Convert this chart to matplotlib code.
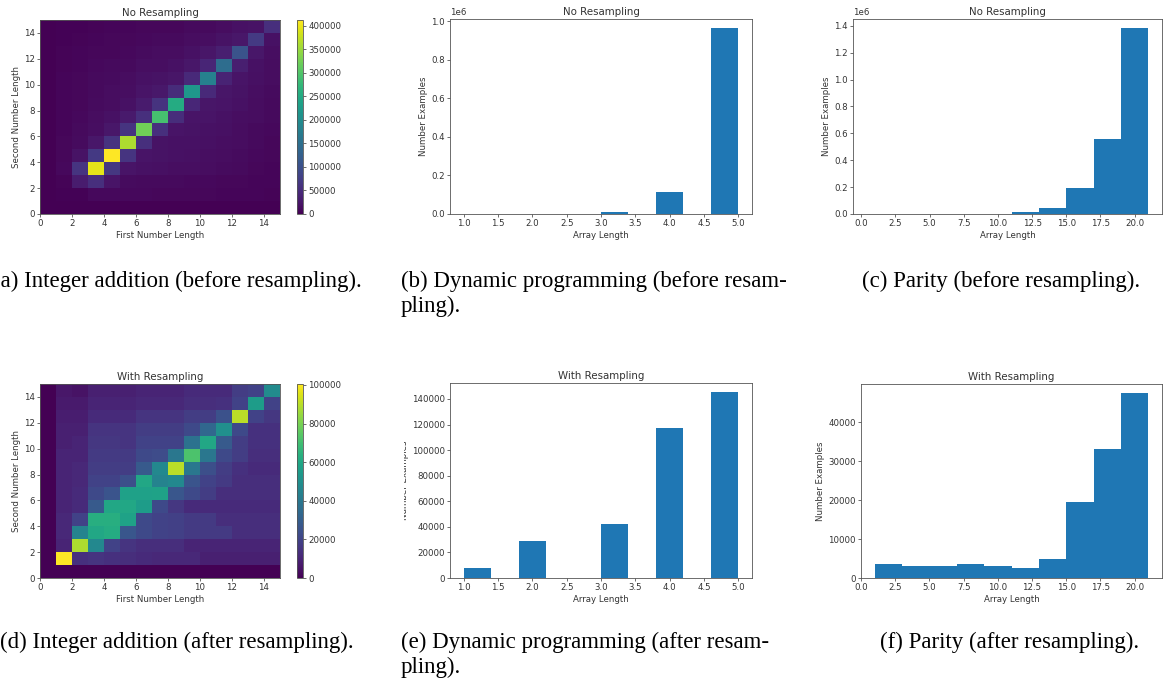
"""Length distributions before/after resampling: integer addition, DP, parity."""
import matplotlib
matplotlib.use("Agg")
import matplotlib.pyplot as plt
from matplotlib.ticker import MultipleLocator
from matplotlib.transforms import Bbox
import numpy as np

W, H = 1166, 682

# integer addition: counts (thousands), rows = second number length 0..14, cols = first length 0..14
add_before = [
    [0, 0, 0, 0, 0, 0, 0, 0, 0, 0, 0, 0, 0, 0, 0],
    [0, 2, 3, 9, 9, 9, 9, 8, 8, 7, 7, 6, 6, 5, 4],
    [0, 4, 32, 55, 22, 12, 11, 10, 10, 9, 9, 8, 7, 6, 5],
    [0, 9, 62, 395, 65, 22, 18, 17, 16, 15, 14, 12, 10, 8, 6],
    [0, 8, 20, 68, 412, 62, 22, 20, 18, 17, 16, 14, 12, 9, 7],
    [0, 7, 12, 25, 60, 362, 55, 20, 18, 18, 17, 15, 13, 10, 8],
    [0, 6, 10, 15, 25, 62, 322, 55, 22, 20, 19, 17, 14, 11, 9],
    [0, 6, 9, 13, 18, 28, 55, 290, 52, 22, 21, 19, 16, 13, 10],
    [0, 5, 8, 12, 14, 18, 30, 60, 252, 45, 24, 21, 18, 14, 11],
    [0, 5, 7, 11, 13, 15, 22, 26, 50, 218, 48, 24, 20, 16, 12],
    [0, 5, 7, 10, 12, 13, 18, 20, 24, 48, 180, 40, 22, 17, 13],
    [0, 4, 6, 9, 10, 11, 15, 16, 18, 25, 42, 145, 35, 18, 14],
    [0, 4, 5, 7, 8, 9, 12, 13, 14, 18, 24, 34, 105, 25, 15],
    [0, 3, 4, 6, 7, 7, 9, 10, 11, 13, 16, 20, 25, 70, 18],
    [0, 2, 3, 4, 5, 5, 7, 7, 8, 10, 11, 13, 18, 20, 55],
]
add_after = [
    [0, 0, 0, 0, 0, 0, 0, 0, 0, 0, 0, 0, 0, 0, 0],
    [0, 100.5, 14, 15, 14, 13, 12, 11, 11, 11, 9, 9, 9, 9, 9],
    [0, 10, 88, 47, 20, 15, 13, 13, 13, 10, 10, 10, 10, 10, 10],
    [0, 11, 45, 60, 62, 27, 22, 20, 19, 17, 17, 17, 13, 13, 13],
    [0, 11, 20, 63, 63, 58, 22, 20, 19, 17, 17, 13, 13, 13, 13],
    [0, 10, 12, 28, 60, 60, 55, 22, 16, 12, 12, 12, 12, 12, 12],
    [0, 10, 12, 22, 26, 57, 57, 58, 27, 22, 18, 13, 13, 13, 13],
    [0, 10, 11, 20, 20, 24, 60, 45, 47, 26, 20, 17, 13, 13, 13],
    [0, 10, 11, 18, 18, 18, 28, 47, 90, 40, 24, 18, 14, 12, 12],
    [0, 10, 10, 17, 17, 17, 22, 23, 40, 72, 40, 22, 18, 13, 13],
    [0, 9, 10, 16, 16, 15, 20, 20, 20, 38, 60, 28, 18, 14, 14],
    [0, 9, 9, 15, 15, 15, 18, 18, 18, 22, 33, 50, 22, 14, 14],
    [0, 8, 8, 12, 12, 12, 15, 15, 15, 18, 18, 25, 90, 20, 16],
    [0, 7, 7, 10, 10, 10, 11, 11, 11, 13, 13, 14, 20, 55, 20],
    [0, 6, 5, 9, 9, 9, 10, 10, 10, 12, 12, 12, 18, 20, 48],
]

# dynamic programming: array length counts
dp_lengths = [1, 2, 3, 4, 5]
dp_before = [100, 1000, 12000, 114000, 964000]
dp_after = [8100, 28700, 42200, 117300, 145200]
dp_bins = [1.0, 1.4, 1.8, 2.2, 2.6, 3.0, 3.4, 3.8, 4.2, 4.6, 5.0]

# parity: array length histogram (bin centres / edges)
par_centres = [2, 4, 6, 8, 10, 12, 14, 16, 18, 20]
par_edges = [1, 3, 5, 7, 9, 11, 13, 15, 17, 19, 21]
par_before = [0, 0, 0, 0, 3000, 12000, 47000, 194000, 558000, 1382000]
par_after = [3650, 3140, 3060, 3570, 3060, 2460, 4840, 19450, 33040, 47390]

captions = [
    ("(a) Integer addition (before resampling).", -7, 271),
    ("(b) Dynamic programming (before resam-\npling).", 401, 271),
    ("(c) Parity (before resampling).", 862, 271),
    ("(d) Integer addition (after resampling).", 0, 632),
    ("(e) Dynamic programming (after resam-\npling).", 401, 632),
    ("(f) Parity (after resampling).", 880, 632),
]

TXT = "#333333"
plt.rcParams.update({
    "font.size": 6.2,
    "text.color": TXT,
    "axes.labelcolor": TXT,
    "xtick.color": TXT,
    "ytick.color": TXT,
    "xtick.labelsize": 6.2,
    "ytick.labelsize": 6.2,
    "axes.titlesize": 7.4,
    "axes.labelsize": 6.2,
    "axes.edgecolor": "#555555",
    "axes.linewidth": 0.6,
    "xtick.major.size": 2,
    "ytick.major.size": 2,
    "xtick.major.width": 0.5,
    "ytick.major.width": 0.5,
    "xtick.major.pad": 1.8,
    "ytick.major.pad": 1.8,
    "axes.titlepad": 3,
    "axes.labelpad": 2,
})


def px_axes(fig, left, top, right, bottom):
    return fig.add_axes([left / W, 1 - bottom / H, (right - left) / W, (bottom - top) / H])


def heatmap(fig, rect, cbar_rect, data, title):
    ax = px_axes(fig, *rect)
    cax = px_axes(fig, *cbar_rect)
    edges = np.arange(16)
    z = np.array(data) * 1000
    mesh = ax.pcolormesh(edges, edges, z, cmap="viridis", vmin=0)
    ax.set_xticks(range(0, 15, 2))
    ax.set_yticks(range(0, 15, 2))
    ax.set_title(title)
    ax.set_xlabel("First Number Length")
    ax.set_ylabel("Second Number Length")
    cb = fig.colorbar(mesh, cax=cax)
    cb.outline.set_edgecolor("#555555")
    cb.outline.set_linewidth(0.6)
    return ax


def bars(fig, rect, x, w, bins, title, xlim=None):
    ax = px_axes(fig, *rect)
    ax.hist(x, bins=bins, weights=w, color="#1f77b4")
    if xlim is not None:
        ax.set_xlim(*xlim)
    ax.set_title(title)
    ax.set_xlabel("Array Length")
    ax.set_ylabel("Number Examples")
    ax.yaxis.get_offset_text().set_fontsize(6.2)
    return ax


fig = plt.figure(figsize=(W / 100, H / 100), dpi=100)

heatmap(fig, (40, 20, 280, 214), (297, 20, 303, 214), add_before, "No Resampling")
heatmap(fig, (40, 384, 280, 578), (297, 384, 303, 578), add_after, "With Resampling")

bars(fig, (450, 19, 752, 214), dp_lengths, dp_before, dp_bins, "No Resampling")
ax_e = bars(fig, (450, 383, 752, 578), dp_lengths, dp_after, dp_bins, "With Resampling")
# the original subfigure crop cuts this label off
ax_e.yaxis.label.set_clip_box(Bbox.from_extents(404, 0, W, H))
ax_e.yaxis.label.set_clip_on(True)

ax_c = bars(fig, (853, 19, 1162, 214), par_centres, par_before, par_edges, "No Resampling",
            xlim=(-0.6, 22))
ax_c.xaxis.set_major_locator(MultipleLocator(2.5))
bars(fig, (861, 384, 1162, 578), par_centres, par_after, par_edges, "With Resampling",
     xlim=(0, 22))

for text, x, y in captions:
    fig.text(x / W, 1 - y / H, text, ha="left", va="top", color="black",
             family="Liberation Serif", fontsize=16.5, linespacing=1.2)

fig.savefig("out.png", dpi=100)
